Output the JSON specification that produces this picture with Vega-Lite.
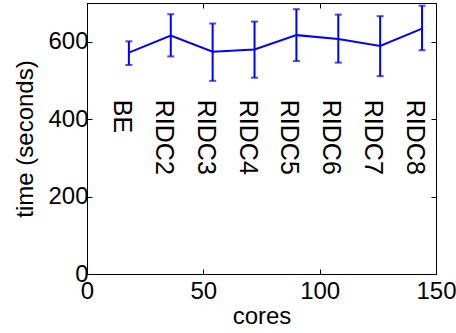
{
  "$schema": "https://vega.github.io/schema/vega-lite/v6.json",
  "width": 349,
  "height": 271,
  "autosize": {"type": "none"},
  "padding": {"left": 87, "top": 3, "right": 20, "bottom": 59},
  "background": "white",
  "config": {
    "font": "Liberation Sans",
    "view": {"stroke": "black", "strokeWidth": 1},
    "axis": {
      "grid": false,
      "domainColor": "black",
      "tickColor": "black",
      "labelColor": "black",
      "titleColor": "black",
      "labelFont": "Liberation Sans",
      "titleFont": "Liberation Sans",
      "labelFontSize": 24,
      "titleFontSize": 24,
      "titleFontWeight": "normal",
      "tickSize": -5,
      "labelFlush": false,
      "labelOverlap": false
    }
  },
  "data": {
    "values": [
      {"cores": 18, "time": 572, "lo": 540, "hi": 601, "label": "BE"},
      {"cores": 36, "time": 616, "lo": 562, "hi": 671, "label": "RIDC2"},
      {"cores": 54, "time": 574, "lo": 499, "hi": 647, "label": "RIDC3"},
      {"cores": 72, "time": 580, "lo": 507, "hi": 652, "label": "RIDC4"},
      {"cores": 90, "time": 617, "lo": 550, "hi": 684, "label": "RIDC5"},
      {"cores": 108, "time": 607, "lo": 546, "hi": 670, "label": "RIDC6"},
      {"cores": 126, "time": 589, "lo": 511, "hi": 666, "label": "RIDC7"},
      {"cores": 144, "time": 634, "lo": 578, "hi": 693, "label": "RIDC8"}
    ]
  },
  "layer": [
    {
      "mark": {"type": "line", "color": "#0000ff", "strokeWidth": 2},
      "encoding": {
        "x": {"field": "cores", "type": "quantitative", "scale": {"domain": [0, 150], "nice": false},
              "axis": {"values": [0, 50, 100, 150], "title": "cores", "labelPadding": 10, "titlePadding": 1}},
        "y": {"field": "time", "type": "quantitative", "scale": {"domain": [0, 700], "nice": false},
              "axis": {"values": [0, 200, 400, 600], "title": "time (seconds)", "labelPadding": 4, "titlePadding": 10}}
      }
    },
    {
      "mark": {"type": "rule", "color": "#0000ff", "strokeWidth": 2},
      "encoding": {
        "x": {"field": "cores", "type": "quantitative",
              "axis": {"orient": "top", "values": [0, 50, 100, 150], "labels": false, "title": null}},
        "y": {"field": "lo", "type": "quantitative",
              "axis": {"orient": "right", "values": [0, 200, 400, 600], "labels": false, "title": null}},
        "y2": {"field": "hi"}
      }
    },
    {
      "mark": {"type": "tick", "orient": "horizontal", "size": 7, "thickness": 2, "color": "#0000ff"},
      "encoding": {
        "x": {"field": "cores", "type": "quantitative", "axis": null},
        "y": {"field": "lo", "type": "quantitative", "axis": null}
      }
    },
    {
      "mark": {"type": "tick", "orient": "horizontal", "size": 7, "thickness": 2, "color": "#0000ff"},
      "encoding": {
        "x": {"field": "cores", "type": "quantitative", "axis": null},
        "y": {"field": "hi", "type": "quantitative", "axis": null}
      }
    },
    {
      "mark": {"type": "text", "angle": 90, "align": "left", "baseline": "middle", "fontSize": 25, "dy": 7, "font": "Liberation Sans", "color": "black"},
      "encoding": {
        "x": {"field": "cores", "type": "quantitative", "axis": null},
        "y": {"datum": 450, "type": "quantitative", "axis": null},
        "text": {"field": "label"}
      }
    }
  ],
  "resolve": {"axis": {"x": "independent", "y": "independent"}}
}
